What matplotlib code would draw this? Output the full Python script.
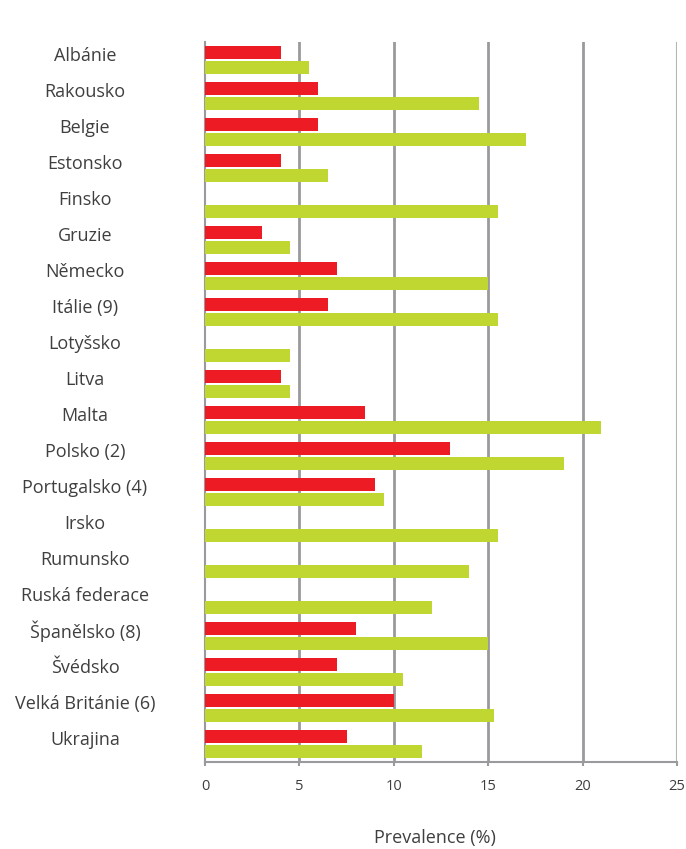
import matplotlib
matplotlib.use("Agg")
import matplotlib.pyplot as plt
import matplotlib.transforms as mtransforms
import numpy as np

countries = ["Albánie", "Rakousko", "Belgie", "Estonsko", "Finsko", "Gruzie",
             "Německo", "Itálie (9)", "Lotyšsko", "Litva", "Malta", "Polsko (2)",
             "Portugalsko (4)", "Irsko", "Rumunsko", "Ruská federace",
             "Španělsko (8)", "Švédsko", "Velká Británie (6)", "Ukrajina"]
red_values = [4.0, 6.0, 6.0, 4.0, np.nan, 3.0, 7.0, 6.5, np.nan, 4.0, 8.5, 13.0,
              9.0, np.nan, np.nan, np.nan, 8.0, 7.0, 10.0, 7.5]
green_values = [5.5, 14.5, 17.0, 6.5, 15.5, 4.5, 15.0, 15.5, 4.5, 4.5, 21.0, 19.0,
                9.5, 15.5, 14.0, 12.0, 15.0, 10.5, 15.3, 11.5]
x_ticks = [0, 5, 10, 15, 20, 25]

RED = "#ED1C24"
GREEN = "#BFD730"
GRID = "#9a9a9e"
TEXT = "#3f3f3f"
FONT = ["Open Sans", "DejaVu Sans"]

W, H = 686, 849
fig = plt.figure(figsize=(W / 100, H / 100), dpi=100)
ax = fig.add_axes([205 / W, 1 - 762 / H, (677 - 205) / W, (762 - 42) / H])

y = np.arange(len(countries))
bar_h = 0.35
off = 0.21
ax.barh(y - off, red_values, height=bar_h, color=RED, zorder=3)
ax.barh(y + off, green_values, height=bar_h, color=GREEN, zorder=3)

ax.set_xlim(0, 25)
ax.set_ylim(len(countries) - 0.5, -0.5)
ax.set_xticks(x_ticks)
ax.set_xticklabels([str(t) for t in x_ticks], family=FONT, fontsize=10.5, color=TEXT)
ax.tick_params(axis="x", length=3, width=1.5, color=GRID, pad=9)
ax.set_yticks([])

for t in x_ticks[1:-1]:
    ax.axvline(t, color=GRID, lw=2, zorder=1)
ax.axvline(x_ticks[-1], color="#b4b4b6", lw=1.5, zorder=1)

for s in ["top", "right"]:
    ax.spines[s].set_visible(False)
ax.spines["left"].set_color(GRID)
ax.spines["left"].set_linewidth(1.5)
ax.spines["bottom"].set_color(GRID)
ax.spines["bottom"].set_linewidth(1.5)

# country names centred in the left margin
trans = mtransforms.blended_transform_factory(fig.transFigure, ax.transData)
for i, name in enumerate(countries):
    ax.text(85 / W, i - 0.12, name, transform=trans, ha="center", va="center",
            family=FONT, fontsize=13, color=TEXT)

fig.text(435 / W, 1 - 838 / H, "Prevalence (%)", ha="center", va="center",
         family=FONT, fontsize=13, color=TEXT)

fig.savefig("out.png", dpi=100, facecolor="white")
